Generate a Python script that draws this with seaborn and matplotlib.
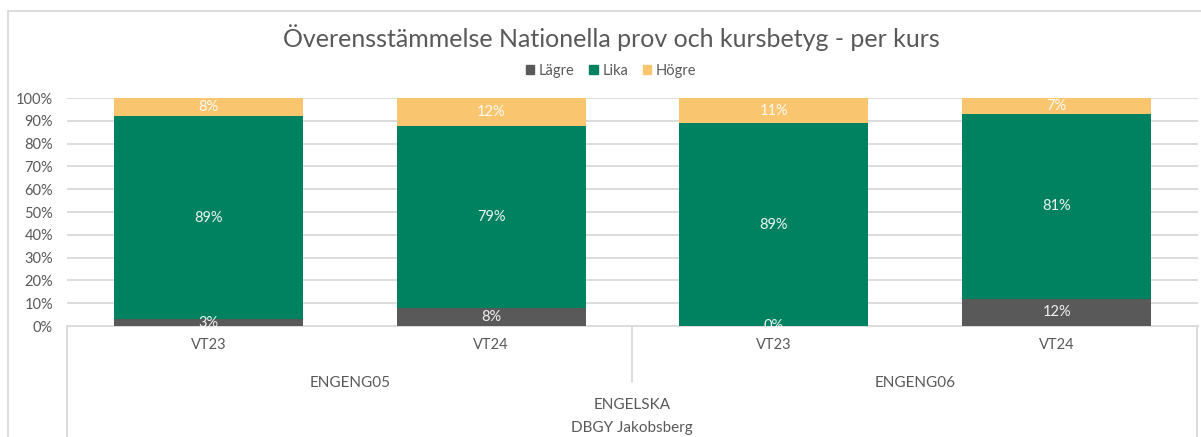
import matplotlib
matplotlib.use("Agg")
import matplotlib.pyplot as plt
import seaborn as sns
import pandas as pd
from matplotlib.lines import Line2D
from matplotlib.patches import Rectangle

# Data
terminer = ["VT23", "VT24", "VT23", "VT24"]
kurser = ["ENGENG05", "ENGENG06"]
amne = "ENGELSKA"
skola = "DBGY Jakobsberg"
lagre = [3, 8, 0, 12]
lika = [89, 79, 89, 81]
hogre = [8, 12, 11, 7]
serier = ["Lägre", "Lika", "Högre"]
farger = {"Lägre": "#595959", "Lika": "#008261", "Högre": "#F9C56F"}

sns.set_theme(style="white")
plt.rcParams["font.family"] = ["Lato", "DejaVu Sans"]
textfarg = "#595959"
gridfarg = "#D9D9D9"

df = pd.DataFrame({"pos": list(range(len(terminer))), "Lägre": lagre, "Lika": lika, "Högre": hogre})
tot = df[serier].sum(axis=1)
for s in serier:
    df[s + "_andel"] = df[s] / tot * 100
df["c1"] = df["Lägre_andel"]
df["c2"] = df["c1"] + df["Lika_andel"]
df["c3"] = df["c2"] + df["Högre_andel"]

fig = plt.figure(figsize=(12.01, 4.37), dpi=100)
W, H = 1201, 437
x0, x1, y0, y1 = 67, 1198, 326, 98
ax = fig.add_axes([x0 / W, 1 - y0 / H, (x1 - x0) / W, (y0 - y1) / H])

# 100 % stacked columns, drawn back to front
bw = 0.668
for col, s in [("c3", "Högre"), ("c2", "Lika"), ("c1", "Lägre")]:
    sns.barplot(data=df, x="pos", y=col, color=farger[s], width=bw,
                saturation=1, ax=ax, order=list(range(len(terminer))),
                edgecolor="none", linewidth=0, zorder=3)

# Segment labels
for i in range(len(df)):
    starts = [0, df.loc[i, "c1"], df.loc[i, "c2"]]
    for s, b in zip(serier, starts):
        mid = b + df.loc[i, s + "_andel"] / 2
        ax.text(i, mid, f"{int(df.loc[i, s])}%", ha="center", va="center", color="white",
                fontsize=10.5, zorder=5, alpha=0.92)

ax.set_xlim(-0.5, len(terminer) - 0.5)
ax.set_ylim(0, 100)
ax.set_yticks(range(0, 101, 10))
ax.set_yticklabels([f"{v}%" for v in range(0, 101, 10)], color=textfarg, fontsize=10.5)
ax.tick_params(axis="y", length=0, pad=10)
ax.set_xticks([])
ax.set_xlabel("")
ax.set_ylabel("")
for v in range(10, 101, 10):
    ax.axhline(v, color=gridfarg, lw=1.3, zorder=1)
for sp in ["top", "right", "left"]:
    ax.spines[sp].set_visible(False)
ax.spines["bottom"].set_color(gridfarg)
ax.spines["bottom"].set_linewidth(1.3)

# Multi-level category axis
def fx(px):
    return px / W

def fy(py):
    return 1 - py / H

for px, ytop, ybot in [(67, 326, 440), (1197, 326, 440), (632, 326, 382)]:
    fig.add_artist(Line2D([fx(px), fx(px)], [fy(ytop), fy(ybot)], color=gridfarg, lw=1.3))

for i, t in enumerate(terminer):
    fig.text(fx(x0 + (i + 0.5) * (x1 - x0) / len(terminer)), fy(345), t,
             ha="center", va="center", color=textfarg, fontsize=10.5)
for j, k in enumerate(kurser):
    fig.text(fx(x0 + (j + 0.5) * (x1 - x0) / len(kurser)), fy(383), k,
             ha="center", va="center", color=textfarg, fontsize=11)
fig.text(fx(632), fy(405), amne, ha="center", va="center", color=textfarg, fontsize=11)
fig.text(fx(632), fy(428), skola, ha="center", va="center", color=textfarg, fontsize=11)

# Title and legend
fig.text(fx(611), fy(38), "Överensstämmelse Nationella prov och kursbetyg - per kurs",
         ha="center", va="center", color=textfarg, fontsize=18)
handles = [Rectangle((0, 0), 1, 1, color=farger[s]) for s in serier]
fig.legend(handles, serier, loc="center", bbox_to_anchor=(fx(611), fy(71)), ncol=3,
           frameon=False, fontsize=10.5, handlelength=0.6, handleheight=0.6,
           handletextpad=0.3, columnspacing=1.0, labelcolor=textfarg)

# Chart frame
fig.add_artist(Line2D([fx(8), fx(1201)], [fy(11), fy(11)], color=gridfarg, lw=1.3))
fig.add_artist(Line2D([fx(8), fx(8)], [fy(11), fy(440)], color=gridfarg, lw=1.3))

fig.savefig("out.png", dpi=100)
